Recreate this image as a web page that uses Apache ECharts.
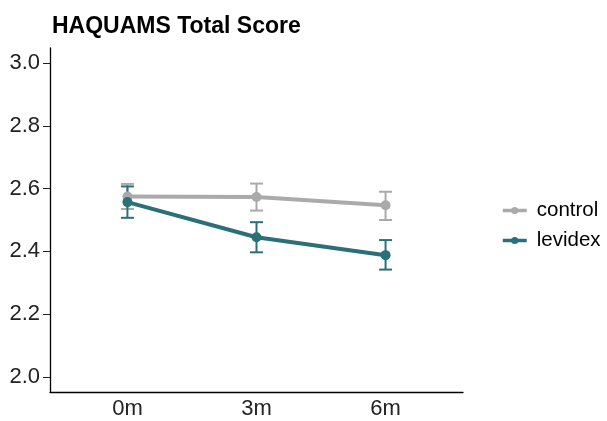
<!DOCTYPE html>
<html>
<head>
<meta charset="utf-8">
<script src="https://cdn.jsdelivr.net/npm/echarts@6/dist/echarts.min.js"></script>
<style>html,body{margin:0;padding:0;background:#fff}#c{width:607px;height:421px}</style>
</head>
<body>
<div id="c"></div>
<script>
const categories = ['0m', '3m', '6m'];
const seriesNames = ['control', 'levidex'];
const controlMean = [2.575, 2.573, 2.547];
const controlLow = [2.535, 2.530, 2.500];
const controlHigh = [2.615, 2.616, 2.590];
const levidexMean = [2.557, 2.445, 2.388];
const levidexLow = [2.507, 2.397, 2.342];
const levidexHigh = [2.607, 2.493, 2.436];
const yTicks = [2.0, 2.2, 2.4, 2.6, 2.8, 3.0];

const colors = ['#aaaaaa', '#2b7078'];
const FONT = 'Liberation Sans, Arial, Helvetica, sans-serif';

function errSeries(name, low, high, color) {
  return {
    name: name + ' SE',
    type: 'custom',
    color: color,
    data: categories.map((c, i) => [i + 1, low[i], high[i]]),
    renderItem: function (params, api) {
      const x = api.value(0);
      const lo = api.coord([x, api.value(1)]);
      const hi = api.coord([x, api.value(2)]);
      const hw = 6.5;
      const style = { stroke: color, lineWidth: 2, fill: null };
      return {
        type: 'group',
        children: [
          { type: 'line', shape: { x1: lo[0], y1: lo[1], x2: hi[0], y2: hi[1] }, style: style },
          { type: 'line', shape: { x1: lo[0] - hw, y1: lo[1], x2: lo[0] + hw, y2: lo[1] }, style: style },
          { type: 'line', shape: { x1: hi[0] - hw, y1: hi[1], x2: hi[0] + hw, y2: hi[1] }, style: style }
        ]
      };
    },
    silent: true,
    z: 2
  };
}

function lineSeries(name, mean, color) {
  return {
    name: name,
    type: 'line',
    color: color,
    data: categories.map((c, i) => [i + 1, mean[i]]),
    symbol: 'circle',
    symbolSize: 10,
    lineStyle: { color: color, width: 4 },
    itemStyle: { color: color },
    z: 3
  };
}

const chart = echarts.init(document.getElementById('c'), null, { renderer: 'canvas' });
chart.setOption({
  animation: false,
  title: {
    text: 'HAQUAMS Total Score',
    left: 47,
    top: 10,
    textStyle: { fontFamily: FONT, fontWeight: 'bold', fontSize: 23, color: '#000' }
  },
  legend: {
    data: seriesNames,
    orient: 'vertical',
    left: 496,
    top: 195,
    itemWidth: 24,
    itemHeight: 9,
    itemGap: 9,
    lineStyle: { width: 3.5 },
    textStyle: { fontFamily: FONT, fontSize: 20.5, color: '#000', padding: [0, 0, 0, 5] }
  },
  grid: { left: 50, right: 144, top: 48, bottom: 29, containLabel: false },
  xAxis: {
    type: 'value',
    min: 0.4,
    max: 3.6,
    splitLine: { show: false },
    axisLine: { show: true, onZero: false, lineStyle: { color: '#000', width: 1.3 } },
    axisTick: { show: false },
    axisLabel: {
      customValues: categories.map((c, i) => i + 1),
      formatter: v => categories[Math.round(v) - 1] || '',
      fontFamily: FONT, fontSize: 22, color: '#222', margin: 6
    }
  },
  yAxis: {
    type: 'value',
    min: 1.952,
    max: 3.048,
    splitLine: { show: false },
    axisLine: { show: true, onZero: false, lineStyle: { color: '#000', width: 1.3 } },
    axisTick: { show: true, customValues: yTicks, length: 7, lineStyle: { color: '#222' } },
    axisLabel: {
      customValues: yTicks,
      formatter: v => v.toFixed(1),
      fontFamily: FONT, fontSize: 22, color: '#222', margin: 10
    }
  },
  series: [
    errSeries('control', controlLow, controlHigh, colors[0]),
    lineSeries('control', controlMean, colors[0]),
    errSeries('levidex', levidexLow, levidexHigh, colors[1]),
    lineSeries('levidex', levidexMean, colors[1])
  ]
});
</script>
</body>
</html>
